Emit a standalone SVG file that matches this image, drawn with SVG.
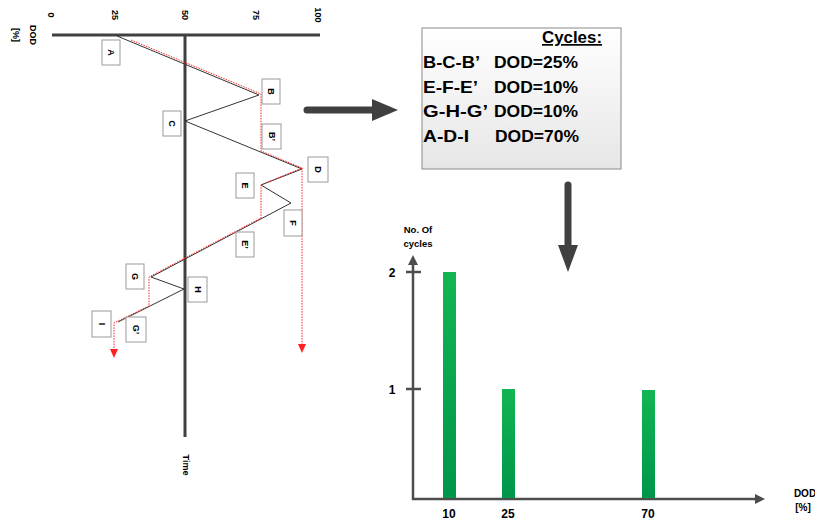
<svg xmlns="http://www.w3.org/2000/svg" width="815" height="521" viewBox="0 0 815 521">
<defs>
<linearGradient id="boxg" x1="0" y1="0" x2="0" y2="1">
<stop offset="0" stop-color="#ffffff"/>
<stop offset="1" stop-color="#e6e6e6"/>
</linearGradient>
<linearGradient id="barg" x1="0" y1="0" x2="0" y2="1">
<stop offset="0" stop-color="#12b553"/>
<stop offset="1" stop-color="#00964a"/>
</linearGradient>
<style>
.ax{stroke:#404040;stroke-width:3;fill:none}
.cax{stroke:#4d4d4d;stroke-width:2.5;fill:none}
.lbl{fill:#fff;stroke:#9a9a9a;stroke-width:1}
.lt{font-family:"Liberation Sans",Arial,sans-serif;font-weight:bold;font-size:9px;fill:#000;text-anchor:middle;dominant-baseline:central}
.tk{font-family:"Liberation Sans",Arial,sans-serif;font-weight:bold;font-size:9px;fill:#000;text-anchor:middle;dominant-baseline:central}
.red{stroke:#ff2020;stroke-width:1;stroke-dasharray:1.5 1.2;fill:none}
.bt{font-family:"Liberation Sans",Arial,sans-serif;font-weight:bold;font-size:17px;fill:#000}
.ct{font-family:"Liberation Sans",Arial,sans-serif;font-weight:bold;fill:#000;text-anchor:middle}
.bar{fill:url(#barg)}
</style>
</defs>

<g id="dod-axis">
<line class="ax" x1="52" y1="35" x2="320" y2="35"/>
<text class="tk" transform="translate(51,15) rotate(90)">0</text>
<text class="tk" transform="translate(115,15) rotate(90)">25</text>
<text class="tk" transform="translate(185,15) rotate(90)">50</text>
<text class="tk" transform="translate(256,15) rotate(90)">75</text>
<text class="tk" transform="translate(318,15) rotate(90)">100</text>
<text class="tk" font-size="10" transform="translate(32.5,35) rotate(90)">DOD</text>
<text class="tk" font-size="10" transform="translate(16,35) rotate(90)">[%]</text>
</g>

<g id="time-axis">
<line class="ax" x1="185" y1="35" x2="185" y2="437"/>
<text class="tk" font-size="10" transform="translate(186,465) rotate(90)">Time</text>
</g>

<g id="connectors">
<polyline fill="none" stroke="#333" stroke-width="1" points="117,36 259,95 185,121 302,169 261,185 291,203 151,277 184,289 118,322"/>
<path class="red" d="M131,40 L261,94 L261,151 L302,168 L261,185 L261,218 L149,277 L149,306 L114,323 L114,350"/>
<path class="red" d="M302,168 L302,345"/>
<polygon points="110,349 118,349 114,358" fill="#ff2020"/>
<polygon points="298,344 306,344 302,353" fill="#ff2020"/>
<line x1="307" y1="110" x2="376" y2="110" stroke="#404040" stroke-width="7" stroke-linecap="round"/>
<polygon points="372,99 398,110 372,121" fill="#404040"/>
<line x1="568" y1="185" x2="568" y2="248" stroke="#404040" stroke-width="7" stroke-linecap="round"/>
<polygon points="558,245 578,245 568,272" fill="#404040"/>
</g>

<g id="label-A"><rect class="lbl" x="102" y="40" width="18" height="25"/><text class="lt" transform="translate(111,52.5) rotate(90)">A</text></g>
<g id="label-B"><rect class="lbl" x="262" y="79" width="18" height="25"/><text class="lt" transform="translate(271,91.5) rotate(90)">B</text></g>
<g id="label-C"><rect class="lbl" x="163" y="111" width="18" height="25"/><text class="lt" transform="translate(172,123.5) rotate(90)">C</text></g>
<g id="label-B2"><rect class="lbl" x="262" y="124" width="19" height="25"/><text class="lt" transform="translate(271.5,136.5) rotate(90)">B’</text></g>
<g id="label-D"><rect class="lbl" x="308" y="157" width="20" height="25"/><text class="lt" transform="translate(318,169.5) rotate(90)">D</text></g>
<g id="label-E"><rect class="lbl" x="236" y="173" width="18" height="25"/><text class="lt" transform="translate(245,185.5) rotate(90)">E</text></g>
<g id="label-F"><rect class="lbl" x="284" y="210" width="18" height="26"/><text class="lt" transform="translate(293,223) rotate(90)">F</text></g>
<g id="label-E2"><rect class="lbl" x="236" y="232" width="18" height="25"/><text class="lt" transform="translate(245,244.5) rotate(90)">E’</text></g>
<g id="label-G"><rect class="lbl" x="126" y="264" width="18" height="25"/><text class="lt" transform="translate(135,276.5) rotate(90)">G</text></g>
<g id="label-H"><rect class="lbl" x="188" y="277" width="19" height="25"/><text class="lt" transform="translate(197.5,289.5) rotate(90)">H</text></g>
<g id="label-I"><rect class="lbl" x="92" y="311" width="19" height="26"/><text class="lt" transform="translate(101.5,324) rotate(90)">I</text></g>
<g id="label-G2"><rect class="lbl" x="126" y="317" width="20" height="25"/><text class="lt" transform="translate(136,329.5) rotate(90)">G’</text></g>

<g id="cycles-box">
<rect x="422" y="28" width="199" height="141" fill="url(#boxg)" stroke="#8a8a8a" stroke-width="1"/>
<text class="bt" x="542" y="43" text-decoration="underline" textLength="60" lengthAdjust="spacingAndGlyphs">Cycles:</text>
<text class="bt" x="423" y="68" textLength="57" lengthAdjust="spacingAndGlyphs">B-C-B’</text>
<text class="bt" x="494" y="68" textLength="84" lengthAdjust="spacingAndGlyphs">DOD=25%</text>
<text class="bt" x="423" y="93" textLength="55" lengthAdjust="spacingAndGlyphs">E-F-E’</text>
<text class="bt" x="494" y="93" textLength="84" lengthAdjust="spacingAndGlyphs">DOD=10%</text>
<text class="bt" x="423" y="117" textLength="65" lengthAdjust="spacingAndGlyphs">G-H-G’</text>
<text class="bt" x="494" y="117" textLength="84" lengthAdjust="spacingAndGlyphs">DOD=10%</text>
<text class="bt" x="423" y="142" textLength="46" lengthAdjust="spacingAndGlyphs">A-D-I</text>
<text class="bt" x="495" y="142" textLength="84" lengthAdjust="spacingAndGlyphs">DOD=70%</text>
</g>

<g id="chart">
<line class="cax" x1="413" y1="500" x2="413" y2="262"/>
<polygon points="408,265 413,255 418,265" fill="#4d4d4d"/>
<line class="cax" x1="412" y1="499" x2="758" y2="499"/>
<polygon points="755,494 765,499 755,504" fill="#4d4d4d"/>
<line class="cax" x1="406" y1="272" x2="421" y2="272"/>
<line class="cax" x1="406" y1="389" x2="421" y2="389"/>
<text class="ct" font-size="12" x="392" y="277">2</text>
<text class="ct" font-size="12" x="392" y="394">1</text>
<text class="ct" font-size="9.5" x="418" y="233">No. Of</text>
<text class="ct" font-size="9.5" x="418" y="247">cycles</text>
<rect class="bar" x="443" y="272" width="13" height="226"/>
<rect class="bar" x="502" y="389" width="13" height="109"/>
<rect class="bar" x="642" y="390" width="13" height="108"/>
<text class="ct" font-size="12" x="449" y="518">10</text>
<text class="ct" font-size="12" x="508" y="518">25</text>
<text class="ct" font-size="12" x="648" y="518">70</text>
<text class="ct" font-size="10" x="805" y="497">DOD</text>
<text class="ct" font-size="10" x="803" y="511">[%]</text>
</g>
</svg>
